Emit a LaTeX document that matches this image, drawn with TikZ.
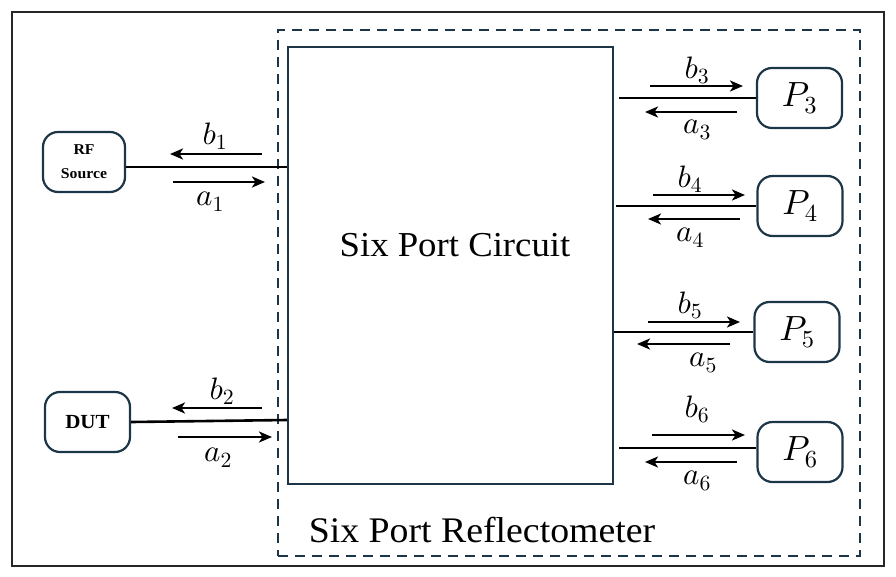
\documentclass[tikz,border=0pt]{standalone}
\usepackage{fontspec}
\setmainfont[FakeStretch=1.05]{Liberation Serif}
\DeclareFontShape{OML}{cmm}{m}{it}{<->cmmi10}{\skewchar\font'177}
\DeclareFontShape{OT1}{cmr}{m}{n}{<->cmr10}{}
\usetikzlibrary{arrows.meta}
\definecolor{boxc}{HTML}{1C3547}
\tikzset{
  port/.style={draw=boxc, line width=2.2pt, rounded corners=15pt, minimum width=85pt, minimum height=60pt, inner sep=0pt},
  wire/.style={draw=black, line width=2.6pt},
  wave/.style={draw=black, line width=2.6pt, -{Stealth[length=13pt,width=11pt,inset=3.5pt]}},
  lab/.style={font=\fontsize{31}{34}\selectfont, inner sep=0pt},
  plab/.style={font=\fontsize{35}{38}\selectfont, inner sep=0pt}
}
\begin{document}
\begin{tikzpicture}[x=1pt,y=-1pt]
\useasboundingbox (0,0) rectangle (896,576);
\draw[line width=2.2pt, draw=black!85] (12,12) rectangle (884,566);
\node[draw=boxc, line width=2.2pt, dash pattern=on 10pt off 7pt, minimum width=582pt, minimum height=526pt, inner sep=0pt] (refl) at (569,293) {};
\node[draw=boxc, line width=2.2pt, minimum width=325pt, minimum height=437pt, inner sep=0pt] (circ) at (450.5,265.5) {};
\node[font=\fontsize{35}{37}\selectfont, inner sep=0pt] (circlab) at (455,245) {Six Port Circuit};
\node[font=\fontsize{36}{38}\selectfont, inner sep=0pt] (reflab) at (482,530) {Six Port Reflectometer};

\node[port, minimum width=82pt, align=center, font=\bfseries\fontsize{15}{24}\selectfont] (src) at (84,162) {RF\\Source};
\node[port, font=\bfseries\fontsize{20}{22}\selectfont] (dut) at (87.5,422) {DUT};
\node[port, plab] (p3) at (799.5,98) {$P_3$};
\node[port, plab] (p4) at (800,206) {$P_4$};
\node[port, plab] (p5) at (797,332) {$P_5$};
\node[port, plab] (p6) at (800,452) {$P_6$};

% connectors
\draw[wire] ([yshift=-5pt]src.east) -- ([yshift=-5pt]src.east -| circ.west);
\draw[wire] (dut.east) -- ([yshift=2pt]dut.east -| circ.west);
\draw[wire] ([xshift=5pt]circ.east |- p3.west) -- (p3.west);
\draw[wire] ([xshift=2pt]circ.east |- p4.west) -- (p4.west);
\draw[wire] (circ.east |- p5.west) -- (p5.west);
\draw[wire] ([xshift=5pt,yshift=4pt]circ.east |- p6.west) -- ([yshift=4pt]p6.west);

% waves port 1
\draw[wave] (262,154) -- (170,154);
\draw[wave] (173,182) -- (265,182);
\node[lab] (b1) at (215,136) {$b_1$};
\node[lab] (a1) at (210,202) {$a_1$};
% port 2
\draw[wave] (262,408) -- (172,408);
\draw[wave] (178,437) -- (272,437);
\node[lab] (b2) at (222,391) {$b_2$};
\node[lab] (a2) at (218,458) {$a_2$};
% port 3
\draw[wave] (650,86) -- (743,86);
\draw[wave] (737,112) -- (645,112);
\node[lab] (b3) at (697,70) {$b_3$};
\node[lab] (a3) at (697,130) {$a_3$};
% port 4
\draw[wave] (653,195) -- (745,195);
\draw[wave] (740,219) -- (648,219);
\node[lab] (b4) at (690,179) {$b_4$};
\node[lab] (a4) at (690,238) {$a_4$};
% port 5
\draw[wave] (648,322) -- (740,322);
\draw[wave] (730,344) -- (637,344);
\node[lab] (b5) at (690,305) {$b_5$};
\node[lab] (a5) at (703,363) {$a_5$};
% port 6
\draw[wave] (652,435) -- (745,435);
\draw[wave] (737,462) -- (645,462);
\node[lab] (b6) at (697,409) {$b_6$};
\node[lab] (a6) at (697,481) {$a_6$};
\end{tikzpicture}
\end{document}
